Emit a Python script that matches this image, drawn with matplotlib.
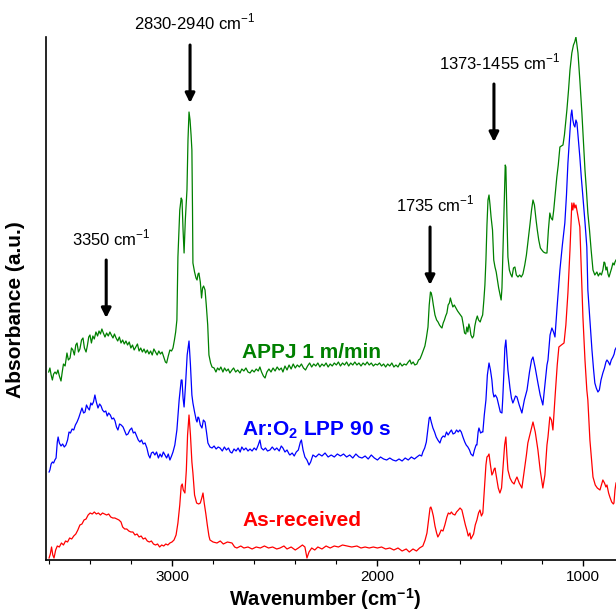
import numpy as np
import matplotlib
matplotlib.use("Agg")
import matplotlib.pyplot as plt
from matplotlib.ticker import MultipleLocator

plt.rcParams['font.family'] = ['Liberation Sans', 'DejaVu Sans']
plt.rcParams['mathtext.fontset'] = 'custom'
plt.rcParams['mathtext.rm'] = 'Liberation Sans'
plt.rcParams['mathtext.bf'] = 'Liberation Sans:bold'

# FTIR spectra as (wavenumber cm-1, absorbance a.u.), already stacked with offsets
red_pts = [
    (3598, 0.02), (3592, 0.06), (3586, 0.13), (3580, 0.05), (3574, 0.02), (3566, 0.10),
    (3558, 0.14), (3548, 0.13), (3538, 0.17), (3528, 0.15), (3518, 0.19), (3508, 0.18),
    (3498, 0.22), (3488, 0.21), (3478, 0.24), (3468, 0.26), (3458, 0.30), (3448, 0.35),
    (3438, 0.36), (3428, 0.40), (3418, 0.41), (3408, 0.45), (3398, 0.47), (3388, 0.46),
    (3378, 0.48), (3368, 0.46), (3358, 0.47), (3348, 0.45), (3338, 0.47), (3328, 0.46),
    (3318, 0.45), (3308, 0.46), (3298, 0.43), (3288, 0.42), (3278, 0.42), (3268, 0.41),
    (3258, 0.40), (3248, 0.38), (3240, 0.33), (3230, 0.31), (3220, 0.31), (3210, 0.29),
    (3200, 0.28), (3190, 0.28), (3180, 0.25), (3170, 0.26), (3160, 0.23), (3150, 0.24),
    (3140, 0.21), (3130, 0.22), (3120, 0.19), (3110, 0.18), (3100, 0.19), (3090, 0.16),
    (3080, 0.15), (3070, 0.16), (3060, 0.13), (3050, 0.15), (3040, 0.14), (3030, 0.16),
    (3020, 0.15), (3010, 0.17), (3000, 0.18), (2990, 0.20), (2980, 0.25), (2971, 0.37),
    (2962, 0.55), (2955, 0.74), (2950, 0.76), (2945, 0.70), (2937, 0.67), (2930, 0.90),
    (2924, 1.25), (2917, 1.45), (2910, 1.25), (2903, 0.98), (2898, 0.87), (2890, 0.65),
    (2880, 0.57), (2870, 0.56), (2862, 0.57), (2855, 0.62), (2849, 0.67), (2843, 0.57),
    (2835, 0.46), (2828, 0.35), (2820, 0.24), (2815, 0.20), (2800, 0.18), (2781, 0.17),
    (2765, 0.19), (2750, 0.16), (2730, 0.18), (2708, 0.17), (2695, 0.13), (2684, 0.12),
    (2665, 0.14), (2650, 0.12), (2630, 0.13), (2610, 0.11), (2590, 0.13), (2570, 0.12),
    (2550, 0.14), (2530, 0.12), (2510, 0.13), (2490, 0.11), (2474, 0.12), (2455, 0.14),
    (2440, 0.11), (2420, 0.13), (2400, 0.10), (2385, 0.12), (2365, 0.15), (2353, 0.13),
    (2343, 0.02), (2333, 0.08), (2320, 0.12), (2305, 0.10), (2290, 0.13), (2270, 0.11),
    (2250, 0.14), (2230, 0.12), (2210, 0.14), (2190, 0.13), (2170, 0.15), (2148, 0.14),
    (2125, 0.13), (2100, 0.14), (2080, 0.12), (2060, 0.13), (2040, 0.12), (2020, 0.13),
    (2000, 0.12), (1980, 0.13), (1960, 0.11), (1940, 0.12), (1920, 0.10), (1900, 0.12),
    (1880, 0.09), (1860, 0.11), (1845, 0.08), (1827, 0.11), (1810, 0.09), (1795, 0.12),
    (1779, 0.14), (1768, 0.20), (1759, 0.27), (1750, 0.42), (1744, 0.52), (1740, 0.53),
    (1735, 0.50), (1728, 0.44), (1720, 0.34), (1712, 0.27), (1706, 0.23), (1698, 0.26),
    (1690, 0.30), (1681, 0.29), (1672, 0.35), (1662, 0.43), (1655, 0.47), (1647, 0.46),
    (1640, 0.48), (1633, 0.46), (1623, 0.45), (1615, 0.48), (1606, 0.50), (1598, 0.52),
    (1589, 0.50), (1580, 0.42), (1572, 0.35), (1565, 0.30), (1558, 0.24), (1550, 0.27),
    (1545, 0.21), (1540, 0.23), (1532, 0.26), (1524, 0.35), (1516, 0.40), (1508, 0.47),
    (1501, 0.50), (1494, 0.44), (1487, 0.47), (1480, 0.70), (1472, 0.95), (1467, 1.03),
    (1462, 1.04), (1457, 1.06), (1450, 0.95), (1443, 0.85), (1438, 0.87), (1432, 0.91),
    (1428, 0.92), (1420, 0.82), (1412, 0.72), (1404, 0.67), (1396, 0.72), (1388, 0.95),
    (1381, 1.15), (1375, 1.23), (1370, 1.05), (1365, 0.90), (1355, 0.82), (1345, 0.78),
    (1335, 0.76), (1328, 0.80), (1321, 0.83), (1310, 0.77), (1297, 0.72), (1285, 0.90),
    (1275, 1.05), (1268, 1.17), (1255, 1.28), (1243, 1.38), (1232, 1.28), (1219, 1.10),
    (1208, 0.90), (1195, 0.72), (1185, 0.85), (1175, 1.15), (1170, 1.23), (1161, 1.43),
    (1153, 1.40), (1146, 1.30), (1135, 1.65), (1125, 1.95), (1117, 2.13), (1105, 2.15),
    (1092, 2.17), (1083, 2.35), (1073, 2.67), (1063, 3.10), (1054, 3.57), (1049, 3.50),
    (1044, 3.57), (1039, 3.52), (1034, 3.55), (1025, 3.45), (1015, 3.33), (1008, 2.90),
    (1000, 2.43), (990, 2.00), (981, 1.70), (976, 1.60), (966, 1.20), (956, 0.95),
    (951, 0.83), (940, 0.75), (930, 0.72), (917, 0.70), (910, 0.75), (903, 0.80),
    (895, 0.77), (888, 0.73), (883, 0.75), (875, 0.67), (869, 0.63), (860, 0.58),
    (852, 0.56), (849, 0.57), (844, 0.70), (839, 0.77),
]

blue_pts = [
    (3598, 0.88), (3594, 0.90), (3588, 0.96), (3582, 0.98), (3576, 0.97), (3570, 1.00),
    (3564, 1.02), (3558, 1.18), (3554, 1.23), (3548, 1.17), (3540, 1.14), (3532, 1.16),
    (3524, 1.13), (3516, 1.15), (3508, 1.20), (3501, 1.28), (3494, 1.27), (3486, 1.31),
    (3478, 1.30), (3470, 1.35), (3462, 1.38), (3454, 1.42), (3446, 1.47), (3438, 1.52),
    (3430, 1.47), (3423, 1.48), (3416, 1.55), (3409, 1.52), (3402, 1.50), (3395, 1.57),
    (3389, 1.55), (3382, 1.58), (3375, 1.65), (3368, 1.58), (3360, 1.52), (3352, 1.56),
    (3345, 1.54), (3338, 1.50), (3330, 1.48), (3322, 1.49), (3315, 1.44), (3308, 1.47),
    (3300, 1.45), (3292, 1.41), (3284, 1.42), (3277, 1.39), (3270, 1.33), (3263, 1.30),
    (3255, 1.36), (3247, 1.35), (3238, 1.33), (3230, 1.29), (3222, 1.25), (3214, 1.26),
    (3205, 1.30), (3196, 1.32), (3188, 1.27), (3180, 1.28), (3172, 1.24), (3164, 1.20),
    (3156, 1.18), (3148, 1.20), (3140, 1.16), (3131, 1.17), (3122, 1.12), (3114, 1.05),
    (3107, 1.02), (3100, 1.07), (3092, 1.08), (3083, 1.05), (3075, 1.08), (3066, 1.02),
    (3058, 1.06), (3050, 1.03), (3042, 1.08), (3034, 1.05), (3026, 1.02), (3018, 1.06),
    (3010, 1.00), (3002, 1.04), (2995, 1.08), (2986, 1.15), (2976, 1.30), (2965, 1.60),
    (2955, 1.80), (2951, 1.80), (2946, 1.62), (2941, 1.53), (2934, 1.75), (2926, 2.05),
    (2917, 2.19), (2910, 1.95), (2903, 1.65), (2898, 1.57), (2890, 1.48), (2882, 1.40),
    (2878, 1.38), (2873, 1.43), (2869, 1.42), (2862, 1.35), (2854, 1.32), (2847, 1.40),
    (2839, 1.38), (2832, 1.28), (2825, 1.17), (2815, 1.13), (2805, 1.12), (2795, 1.14),
    (2785, 1.11), (2775, 1.13), (2766, 1.12), (2755, 1.09), (2745, 1.13), (2735, 1.10),
    (2725, 1.12), (2716, 1.08), (2708, 1.07), (2698, 1.11), (2688, 1.09), (2678, 1.12),
    (2668, 1.08), (2660, 1.13), (2650, 1.10), (2640, 1.12), (2630, 1.09), (2620, 1.11),
    (2610, 1.09), (2600, 1.12), (2590, 1.10), (2580, 1.15), (2572, 1.20), (2565, 1.12),
    (2555, 1.10), (2545, 1.12), (2535, 1.09), (2523, 1.10), (2512, 1.13), (2500, 1.10),
    (2490, 1.12), (2478, 1.09), (2468, 1.14), (2460, 1.12), (2450, 1.08), (2440, 1.10),
    (2430, 1.06), (2426, 1.05), (2415, 1.07), (2405, 1.04), (2395, 1.08), (2385, 1.10),
    (2375, 1.18), (2370, 1.20), (2362, 1.10), (2353, 1.03), (2343, 1.00), (2333, 0.95),
    (2325, 0.98), (2314, 1.05), (2300, 1.03), (2285, 1.06), (2270, 1.04), (2255, 1.07),
    (2240, 1.03), (2225, 1.05), (2210, 1.03), (2195, 1.06), (2180, 1.04), (2165, 1.06),
    (2150, 1.03), (2135, 1.05), (2120, 1.02), (2105, 1.06), (2090, 1.03), (2075, 1.02),
    (2060, 1.04), (2045, 1.01), (2030, 1.05), (2015, 1.02), (2000, 1.00), (1985, 1.03),
    (1970, 1.01), (1955, 1.00), (1940, 1.02), (1925, 1.00), (1910, 0.99), (1895, 1.01),
    (1880, 0.99), (1865, 1.02), (1850, 1.00), (1835, 1.03), (1820, 1.01), (1808, 1.03),
    (1795, 1.05), (1785, 1.04), (1779, 1.08), (1770, 1.12), (1762, 1.18), (1755, 1.30),
    (1748, 1.42), (1744, 1.43), (1738, 1.38), (1730, 1.32), (1722, 1.28), (1714, 1.23),
    (1706, 1.20), (1696, 1.17), (1688, 1.22), (1680, 1.24), (1672, 1.23), (1664, 1.28),
    (1656, 1.25), (1647, 1.28), (1640, 1.30), (1632, 1.26), (1623, 1.27), (1615, 1.30),
    (1607, 1.28), (1599, 1.30), (1592, 1.28), (1584, 1.23), (1575, 1.18), (1568, 1.15),
    (1560, 1.13), (1552, 1.10), (1545, 1.06), (1535, 1.04), (1528, 1.10), (1520, 1.15),
    (1516, 1.15), (1510, 1.28), (1506, 1.32), (1498, 1.27), (1491, 1.28), (1487, 1.28),
    (1480, 1.45), (1472, 1.60), (1465, 1.85), (1457, 1.97), (1450, 1.90), (1443, 1.80),
    (1438, 1.68), (1433, 1.63), (1426, 1.65), (1418, 1.62), (1410, 1.55), (1402, 1.48),
    (1394, 1.47), (1390, 1.62), (1384, 1.90), (1380, 2.12), (1375, 2.20), (1370, 2.05),
    (1365, 1.90), (1355, 1.72), (1348, 1.62), (1341, 1.57), (1335, 1.60), (1328, 1.64),
    (1321, 1.63), (1310, 1.55), (1297, 1.47), (1285, 1.60), (1272, 1.70), (1260, 1.88),
    (1250, 2.00), (1243, 2.03), (1232, 1.92), (1219, 1.77), (1208, 1.65), (1195, 1.55),
    (1185, 1.75), (1175, 1.95), (1170, 2.00), (1160, 2.25), (1151, 2.32), (1143, 2.28),
    (1136, 2.23), (1125, 2.55), (1112, 2.90), (1100, 3.15), (1088, 3.37), (1080, 3.65),
    (1073, 3.97), (1064, 4.25), (1058, 4.45), (1054, 4.50), (1049, 4.40), (1044, 4.35),
    (1039, 4.33), (1034, 4.40), (1029, 4.37), (1022, 4.20), (1015, 4.03), (1008, 3.83),
    (1000, 3.63), (990, 3.38), (981, 3.13), (976, 2.70), (966, 2.40), (956, 2.10),
    (948, 1.90), (942, 1.77), (935, 1.72), (927, 1.68), (920, 1.70), (912, 1.80),
    (903, 1.87), (895, 1.92), (888, 1.98), (883, 2.00), (876, 1.98), (869, 1.95),
    (862, 2.00), (854, 2.03), (848, 2.06), (844, 2.10), (839, 2.12),
]

green_pts = [
    (3600, 1.88), (3594, 1.92), (3588, 1.85), (3582, 1.80), (3576, 1.86), (3569, 1.88),
    (3562, 1.86), (3555, 1.90), (3548, 1.84), (3540, 1.79), (3534, 1.88), (3528, 1.96),
    (3520, 1.94), (3511, 2.07), (3504, 2.00), (3496, 2.02), (3489, 2.12), (3482, 2.10),
    (3475, 2.05), (3468, 2.15), (3462, 2.17), (3455, 2.08), (3448, 2.11), (3440, 2.20),
    (3433, 2.22), (3426, 2.12), (3418, 2.08), (3412, 2.14), (3405, 2.23), (3399, 2.25),
    (3392, 2.17), (3385, 2.24), (3378, 2.21), (3370, 2.28), (3362, 2.24), (3355, 2.29),
    (3348, 2.26), (3341, 2.31), (3334, 2.27), (3326, 2.23), (3318, 2.27), (3310, 2.24),
    (3302, 2.28), (3295, 2.25), (3287, 2.22), (3280, 2.26), (3272, 2.22), (3264, 2.19),
    (3256, 2.23), (3248, 2.17), (3240, 2.20), (3232, 2.16), (3224, 2.19), (3216, 2.15),
    (3208, 2.18), (3200, 2.12), (3192, 2.15), (3184, 2.10), (3176, 2.13), (3168, 2.16),
    (3160, 2.09), (3152, 2.12), (3144, 2.08), (3136, 2.11), (3128, 2.07), (3120, 2.10),
    (3112, 2.06), (3104, 2.09), (3096, 2.05), (3088, 2.11), (3080, 2.08), (3072, 2.05),
    (3064, 2.09), (3056, 2.06), (3048, 2.08), (3040, 2.03), (3032, 1.98), (3026, 1.97),
    (3018, 2.04), (3010, 2.10), (3002, 2.09), (2995, 2.12), (2988, 2.20), (2982, 2.28),
    (2976, 2.40), (2971, 3.03), (2962, 3.50), (2955, 3.62), (2951, 3.60), (2946, 3.30),
    (2941, 3.07), (2935, 3.40), (2927, 3.70), (2922, 4.20), (2917, 4.48), (2912, 4.40),
    (2907, 4.25), (2903, 4.10), (2900, 3.50), (2898, 2.97), (2890, 2.88), (2883, 2.82),
    (2878, 2.80), (2873, 2.86), (2869, 2.87), (2862, 2.78), (2856, 2.62), (2851, 2.72),
    (2846, 2.74), (2839, 2.70), (2833, 2.55), (2826, 2.35), (2820, 2.05), (2812, 1.97),
    (2805, 1.93), (2795, 1.92), (2786, 1.88), (2778, 1.92), (2770, 1.90), (2762, 1.93),
    (2752, 1.88), (2744, 1.92), (2735, 1.89), (2726, 1.91), (2718, 1.87), (2708, 1.90),
    (2700, 1.92), (2690, 1.88), (2680, 1.90), (2669, 1.87), (2660, 1.91), (2650, 1.89),
    (2640, 1.92), (2630, 1.88), (2620, 1.87), (2610, 1.90), (2600, 1.88), (2590, 1.91),
    (2580, 1.89), (2572, 1.93), (2564, 1.88), (2555, 1.84), (2547, 1.82), (2538, 1.88),
    (2528, 1.91), (2518, 1.88), (2508, 1.92), (2498, 1.89), (2488, 1.93), (2478, 1.90),
    (2468, 1.92), (2460, 1.88), (2450, 1.94), (2440, 1.90), (2430, 1.95), (2420, 1.91),
    (2410, 1.96), (2400, 1.92), (2390, 1.95), (2380, 1.93), (2370, 1.96), (2360, 1.92),
    (2350, 1.90), (2340, 1.94), (2330, 1.97), (2320, 1.93), (2310, 1.96), (2300, 1.94),
    (2290, 1.97), (2280, 1.93), (2270, 1.96), (2260, 1.94), (2250, 1.97), (2240, 1.93),
    (2230, 1.96), (2220, 1.94), (2210, 1.97), (2200, 1.95), (2190, 1.98), (2180, 1.94),
    (2170, 1.97), (2160, 1.95), (2150, 1.98), (2140, 1.94), (2130, 1.97), (2120, 1.95),
    (2110, 1.98), (2100, 1.95), (2090, 1.97), (2080, 1.94), (2070, 1.97), (2060, 1.95),
    (2050, 1.98), (2040, 1.95), (2030, 1.97), (2020, 1.94), (2010, 1.96), (2000, 1.95),
    (1990, 1.97), (1980, 1.94), (1970, 1.96), (1960, 1.93), (1950, 1.96), (1940, 1.94),
    (1930, 1.97), (1920, 1.93), (1910, 1.95), (1900, 1.93), (1890, 1.97), (1880, 1.94),
    (1870, 1.96), (1860, 1.95), (1850, 1.98), (1842, 2.00), (1835, 1.96), (1826, 1.98),
    (1818, 1.95), (1808, 1.96), (1800, 2.00), (1793, 2.01), (1785, 2.05), (1776, 2.10),
    (1769, 2.14), (1762, 2.22), (1754, 2.33), (1748, 2.55), (1742, 2.68), (1738, 2.67),
    (1733, 2.62), (1728, 2.55), (1720, 2.45), (1712, 2.40), (1705, 2.38), (1698, 2.35),
    (1691, 2.33), (1686, 2.32), (1680, 2.37), (1674, 2.40), (1668, 2.44), (1662, 2.47),
    (1656, 2.55), (1650, 2.57), (1645, 2.62), (1640, 2.58), (1633, 2.53), (1626, 2.55),
    (1618, 2.52), (1610, 2.49), (1603, 2.47), (1596, 2.45), (1589, 2.43), (1582, 2.35),
    (1576, 2.27), (1570, 2.26), (1565, 2.33), (1560, 2.28), (1555, 2.36), (1550, 2.32),
    (1545, 2.25), (1538, 2.22), (1532, 2.24), (1526, 2.34), (1520, 2.40), (1514, 2.44),
    (1508, 2.40), (1500, 2.38), (1494, 2.42), (1488, 2.45), (1482, 2.60), (1477, 2.75),
    (1472, 3.00), (1467, 3.35), (1462, 3.60), (1457, 3.65), (1452, 3.55), (1447, 3.43),
    (1440, 3.30), (1434, 3.00), (1428, 2.93), (1422, 2.88), (1416, 2.80), (1410, 2.72),
    (1403, 2.65), (1398, 2.60), (1394, 2.72), (1389, 3.10), (1384, 3.50), (1378, 3.95),
    (1375, 3.93), (1370, 3.45), (1365, 3.03), (1358, 2.90), (1352, 2.86), (1345, 2.83),
    (1338, 2.92), (1331, 2.93), (1324, 2.85), (1316, 2.83), (1308, 2.85), (1300, 2.83),
    (1292, 2.86), (1283, 2.95), (1275, 3.05), (1268, 3.17), (1258, 3.35), (1250, 3.50),
    (1243, 3.60), (1236, 3.55), (1228, 3.40), (1222, 3.30), (1215, 3.20), (1207, 3.12),
    (1200, 3.10), (1192, 3.08), (1183, 3.07), (1175, 3.07), (1168, 3.30), (1161, 3.47),
    (1155, 3.42), (1148, 3.40), (1142, 3.50), (1135, 3.65), (1127, 3.83), (1120, 3.95),
    (1112, 4.13), (1105, 4.14), (1097, 4.15), (1090, 4.25), (1083, 4.40), (1078, 4.50),
    (1070, 4.70), (1063, 4.90), (1054, 5.07), (1046, 5.15), (1040, 5.18), (1034, 5.23),
    (1029, 5.15), (1024, 5.07), (1015, 4.80), (1005, 4.47), (998, 4.20), (990, 3.90),
    (983, 3.70), (976, 3.47), (968, 3.30), (960, 3.10), (951, 2.90), (942, 2.85),
    (932, 2.88), (925, 2.84), (917, 2.87), (910, 2.85), (903, 2.90), (897, 2.98),
    (893, 2.97), (888, 2.90), (883, 2.93), (878, 2.86), (873, 2.83), (866, 2.88),
    (860, 2.92), (854, 2.97), (848, 2.95), (844, 2.98), (839, 3.00),
]

series_names = ["APPJ 1 m/min", "Ar:O$_\\mathregular{2}$ LPP 90 s", "As-received"]
series_colors = ["#008000", "#0000ff", "#ff0000"]
label_y = [2.08, 1.30, 0.40]

# peak annotations
ann_text = ["3350 cm$^{\\mathregular{-1}}$", "2830-2940 cm$^{\\mathregular{-1}}$",
            "1735 cm$^{\\mathregular{-1}}$", "1373-1455 cm$^{\\mathregular{-1}}$"]
ann_x = [3320, 2912, 1744, 1433]
ann_top = [3.00, 5.15, 3.33, 4.76]
ann_tip = [2.42, 4.57, 2.75, 4.18]
ann_tx = [3297, 2888, 1720, 1404]
ann_ty = [3.22, 5.38, 3.56, 4.98]

fig = plt.figure(figsize=(6.16, 6.12), dpi=100)
ax = fig.add_axes([46/616, 52/612, 570/616, 523/612])

for pts, col in zip([green_pts, blue_pts, red_pts], series_colors):
    wn, ab = zip(*pts)
    ax.plot(wn, ab, color=col, lw=0.9)

ax.set_xlim(3613, 839)
ax.set_ylim(0, 5.23)

for name, col, yy in zip(series_names, series_colors, label_y):
    ax.text(2659, yy, name, color=col, fontsize=15, fontweight='bold',
            ha='left', va='center')

for t, x, y0, y1, tx, ty in zip(ann_text, ann_x, ann_top, ann_tip, ann_tx, ann_ty):
    ax.annotate("", xy=(x, y1), xytext=(x, y0),
                arrowprops=dict(arrowstyle='-|>', color='black', lw=2.2,
                                mutation_scale=14, shrinkA=0, shrinkB=0),
                annotation_clip=False)
    ax.text(tx, ty, t, fontsize=12, ha='center', va='center', clip_on=False)

ax.spines['top'].set_visible(False)
ax.spines['right'].set_visible(False)
ax.spines['left'].set_linewidth(1.2)
ax.spines['bottom'].set_linewidth(1.2)
ax.set_yticks([])
ax.xaxis.set_major_locator(MultipleLocator(1000))
ax.xaxis.set_minor_locator(MultipleLocator(200))
ax.tick_params(axis='x', which='major', length=4, width=1, labelsize=11, direction='out')
ax.tick_params(axis='x', which='minor', length=3, width=0.8, direction='out')

ax.set_xlabel("Wavenumber (cm$^{\\mathregular{-1}}$)", fontsize=14.5, fontweight='bold')
ax.set_ylabel("Absorbance (a.u.)", fontsize=15, fontweight='bold')
ax.xaxis.set_label_coords(0.49, -0.05)
ax.yaxis.set_label_coords(-0.037, 0.478)

plt.savefig("out.png", dpi=100)
